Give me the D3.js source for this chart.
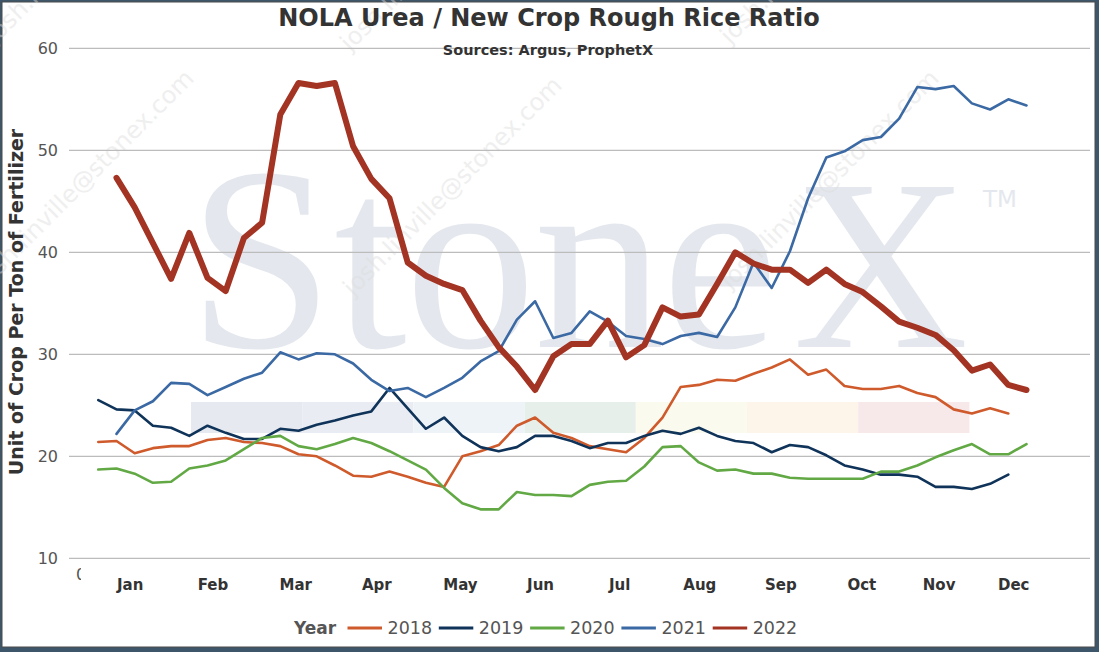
<!DOCTYPE html>
<html>
<head>
<meta charset="utf-8">
<script src="https://cdn.jsdelivr.net/npm/d3@7"></script>
<style>
  html, body { margin: 0; padding: 0; background: #3e566a; }
  svg { display: block; }
</style>
</head>
<body>
<svg width="1099" height="652"></svg>
<script>
// weekly ratio per year, week 1..52 (null = no value that week)
const months = ["Jan", "Feb", "Mar", "Apr", "May", "Jun", "Jul", "Aug", "Sep", "Oct", "Nov", "Dec"];
// where each month label sits, in week units
const monthWeeks = [2.75, 7.3, 11.85, 16.3, 20.9, 25.3, 29.65, 34.05, 38.5, 42.95, 47.2, 51.3];
const years = ["2018", "2019", "2020", "2021", "2022"];
const yTicks = [10, 20, 30, 40, 50, 60];

const y2018 = [21.4, 21.5, 20.3, 20.8, 21.0, 21.0, 21.6, 21.8, 21.4, 21.3,
    21.0, 20.2, 20.0, 19.1, 18.1, 18.0, 18.5, 18.0, 17.4, 17.0,
    20.0, 20.5, 21.1, 23.0, 23.8, 22.3, 21.8, 21.0, 20.7, 20.4,
    21.8, 23.8, 26.8, 27.0, 27.5, 27.4, 28.1, 28.7, 29.5, 28.0,
    28.5, 26.9, 26.6, 26.6, 26.9, 26.2, 25.8, 24.6, 24.2, 24.7,
    24.2];
const y2019 = [25.5, 24.6, 24.5, 23.0, 22.8, 22.0, 23.0, 22.3, 21.7, 21.7,
    22.7, 22.5, 23.1, 23.5, 24.0, 24.4, 26.7, 24.7, 22.7, 23.8,
    22.0, 20.9, 20.5, 20.9, 22.0, 22.0, 21.5, 20.8, 21.3, 21.3,
    22.0, 22.5, 22.2, 22.8, 22.0, 21.5, 21.3, 20.4, 21.1, 20.9,
    20.1, 19.1, 18.7, 18.2, 18.2, 18.0, 17.0, 17.0, 16.8, 17.3,
    18.2];
const y2020 = [18.7, 18.8, 18.3, 17.4, 17.5, 18.8, 19.1, 19.6, 20.7, 21.8,
    22.0, 21.0, 20.7, 21.2, 21.8, 21.3, 20.5, 19.6, 18.7, 16.9,
    15.4, 14.8, 14.8, 16.5, 16.2, 16.2, 16.1, 17.2, 17.5, 17.6,
    19.0, 20.9, 21.0, 19.4, 18.6, 18.7, 18.3, 18.3, 17.9, 17.8,
    17.8, 17.8, 17.8, 18.5, 18.5, 19.1, 19.9, 20.6, 21.2, 20.2,
    20.2, 21.2];
const y2021 = [null, 22.2, 24.5, 25.4, 27.2, 27.1, 26.0, 26.8, 27.6, 28.2,
    30.2, 29.5, 30.1, 30.0, 29.1, 27.5, 26.4, 26.7, 25.8, 26.7,
    27.7, 29.3, 30.3, 33.4, 35.2, 31.6, 32.1, 34.2, 33.2, 31.8,
    31.5, 31.0, 31.8, 32.1, 31.7, 34.6, 39.0, 36.5, 40.1, 45.3,
    49.3, 49.9, 51.0, 51.3, 53.1, 56.2, 56.0, 56.3, 54.6, 54.0,
    55.0, 54.4];
const y2022 = [null, 47.3, 44.4, 40.9, 37.4, 41.9, 37.5, 36.2, 41.4, 42.9,
    53.5, 56.6, 56.3, 56.6, 50.4, 47.2, 45.3, 39.0, 37.7, 36.9,
    36.3, 33.3, 30.7, 28.8, 26.5, 29.8, 31.0, 31.0, 33.3, 29.7,
    30.9, 34.6, 33.7, 33.9, 36.9, 40.0, 38.9, 38.3, 38.3, 37.0,
    38.3, 36.9, 36.1, 34.7, 33.2, 32.6, 31.9, 30.4, 28.4, 29.0,
    27.0, 26.5];

const svg = d3.select("svg"),
    width = +svg.attr("width"),
    height = +svg.attr("height");

const font = "DejaVu Sans, Verdana, sans-serif";
const series = [y2018, y2019, y2020, y2021, y2022];
const colors = ["#cf5a2c", "#0f3359", "#62a945", "#3b69a4", "#a33322"];
const widths = [2.6, 2.6, 2.6, 2.6, 6];

// one slot per week
const x = d3.scaleLinear().domain([1, 53]).range([98.3, 98.3 + 18.2 * 52]);
const y = d3.scaleLinear().domain([10, 60]).range([558.3, 48.3]);
const gridLeft = 69, gridRight = 1090;

// frame
svg.append("rect")
    .attr("x", 2).attr("y", 2)
    .attr("width", width - 6).attr("height", height - 7)
    .attr("fill", "white")
    .attr("stroke", "#4a4a4a")
    .attr("stroke-width", 1);

// watermark: colour strip of the logo
const strip = ["#e6eaf0", "#e9edf3", "#eef3f8", "#e6efea", "#fafaee", "#fdf5e9", "#f7e8ea"];
svg.append("g")
    .selectAll("rect")
    .data(strip)
    .join("rect")
    .attr("x", (d, i) => 191 + i * 111.2)
    .attr("y", 402)
    .attr("width", 111.2)
    .attr("height", 31)
    .attr("fill", d => d);

const logo = svg.append("text")
    .attr("y", 347)
    .attr("font-family", "Liberation Serif, Times New Roman, serif")
    .attr("font-size", 262)
    .attr("fill", "#e4e8ee");
logo.append("tspan").attr("x", "188 334 405 534 662").text("Stone");
logo.append("tspan").attr("x", 793).attr("font-size", 243).text("X");

svg.append("text")
    .attr("x", 983).attr("y", 207)
    .attr("font-family", font)
    .attr("font-size", 23)
    .attr("fill", "#e4e8ee")
    .text("TM");

// diagonal e-mail watermark
const marks = [[-15, 290], [353, 297], [730, 290], [-5, 45], [350, 52], [730, 45]];
svg.append("g")
    .selectAll("text")
    .data(marks)
    .join("text")
    .attr("transform", d => `translate(${d[0]},${d[1]}) rotate(-45)`)
    .attr("font-family", font)
    .attr("font-size", 24)
    .attr("fill", "#dcdcdc")
    .attr("opacity", 0.45)
    .text("josh.linville@stonex.com");

// gridlines + y ticks
svg.append("g")
    .selectAll("line")
    .data(yTicks)
    .join("line")
    .attr("x1", gridLeft).attr("x2", gridRight)
    .attr("y1", d => y(d)).attr("y2", d => y(d))
    .attr("stroke", "#bcbcbc")
    .attr("stroke-width", 1.3);

svg.append("g")
    .selectAll("text")
    .data(yTicks)
    .join("text")
    .attr("x", 58)
    .attr("y", d => y(d))
    .attr("dy", "0.33em")
    .attr("text-anchor", "end")
    .attr("font-family", font)
    .attr("font-size", 16)
    .attr("fill", "#555")
    .text(d => d);

// stray clipped category label at the axis corner
svg.append("clipPath").attr("id", "cut")
    .append("rect").attr("x", 70).attr("y", 560).attr("width", 11).attr("height", 30);
svg.append("text")
    .attr("x", 76).attr("y", 580)
    .attr("clip-path", "url(#cut)")
    .attr("font-family", font)
    .attr("font-size", 16)
    .attr("fill", "#555")
    .text("0");

// month labels
svg.append("g")
    .selectAll("text")
    .data(months)
    .join("text")
    .attr("x", (d, i) => x(monthWeeks[i]))
    .attr("y", 590)
    .attr("text-anchor", "middle")
    .attr("font-family", font)
    .attr("font-size", 15)
    .attr("font-weight", "bold")
    .attr("fill", "#333")
    .text(d => d);

// lines
const line = d3.line()
    .defined(d => d != null)
    .x((d, i) => x(i + 1))
    .y(d => y(d));

svg.append("g")
    .selectAll("path")
    .data(series)
    .join("path")
    .attr("d", d => line(d))
    .attr("fill", "none")
    .attr("stroke", (d, i) => colors[i])
    .attr("stroke-width", (d, i) => widths[i])
    .attr("stroke-linejoin", "round")
    .attr("stroke-linecap", "round");

// titles
svg.append("text")
    .attr("x", 549).attr("y", 26)
    .attr("text-anchor", "middle")
    .attr("font-family", font)
    .attr("font-size", 24)
    .attr("font-weight", "bold")
    .attr("fill", "#333")
    .text("NOLA Urea / New Crop Rough Rice Ratio");

svg.append("text")
    .attr("x", 548).attr("y", 55)
    .attr("text-anchor", "middle")
    .attr("font-family", font)
    .attr("font-size", 14.5)
    .attr("font-weight", "bold")
    .attr("fill", "#333")
    .text("Sources: Argus, ProphetX");

svg.append("text")
    .attr("transform", "translate(23,302) rotate(-90)")
    .attr("text-anchor", "middle")
    .attr("font-family", font)
    .attr("font-size", 19)
    .attr("font-weight", "bold")
    .attr("fill", "#333")
    .text("Unit of Crop Per Ton of Fertilizer");

// legend
const legend = svg.append("g");
legend.append("text")
    .attr("x", 294).attr("y", 634)
    .attr("font-family", font)
    .attr("font-size", 17)
    .attr("font-weight", "bold")
    .attr("fill", "#555")
    .text("Year");

const item = legend.selectAll("g")
    .data(years)
    .join("g")
    .attr("transform", (d, i) => `translate(${347.5 + i * 91.3},0)`);

item.append("line")
    .attr("x1", 0).attr("x2", 34.5)
    .attr("y1", 628).attr("y2", 628)
    .attr("stroke", (d, i) => colors[i])
    .attr("stroke-width", 3);

item.append("text")
    .attr("x", 40).attr("y", 634)
    .attr("font-family", font)
    .attr("font-size", 17.5)
    .attr("fill", "#555")
    .text(d => d);
</script>
</body>
</html>
